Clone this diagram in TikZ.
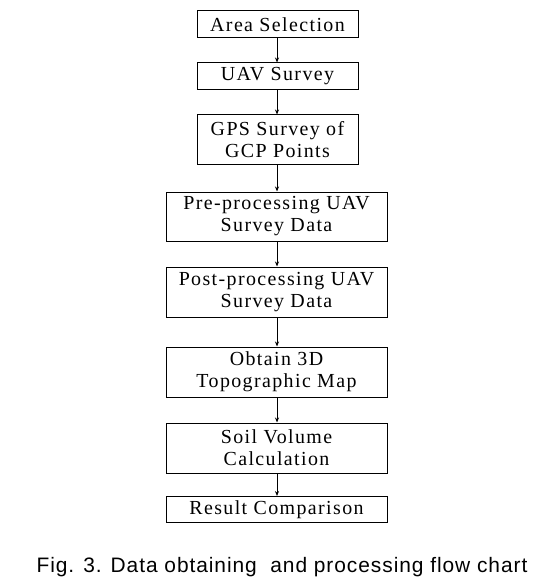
\documentclass[tikz,border=0pt]{standalone}
\usepackage{fontspec}
\setmainfont[LetterSpace=7]{Liberation Serif}
\newfontfamily\boxfont[LetterSpace=7]{Liberation Serif}
\newfontfamily\capfont[LetterSpace=4.5]{Liberation Sans}
\usetikzlibrary{arrows.meta}
\begin{document}
\begin{tikzpicture}[x=1bp,y=-1bp,
  flowbox/.style={draw=black,line width=1bp,fill=white,inner sep=0pt,align=center,
    font=\boxfont\fontsize{20}{22}\selectfont,minimum height=#1},
  flowbox/.default=27bp,
  narrowbox/.style={flowbox=#1,minimum width=161bp},
  narrowbox/.default=27bp,
  widebox/.style={flowbox=#1,minimum width=221bp},
  widebox/.default=50bp,
  flowarrow/.style={draw=black,line width=0.8bp,-{Stealth[length=5bp,width=4bp]}}]
\useasboundingbox (0,0) rectangle (558,580);
\node[narrowbox] (a) at (277.5,24.5) {Area Selection};
\node[narrowbox] (b) at (277.5,76.5) {UAV Survey};
\node[narrowbox=49bp] (c) at (277.5,139.5) {GPS Survey of\\GCP Points};
\node[widebox=49bp] (d) at (276.5,216.5) {Pre-processing UAV\\Survey Data};
\node[widebox] (e) at (276.5,292) {Post-processing UAV\\Survey Data};
\node[widebox] (f) at (276.5,372) {Obtain 3D\\Topographic Map};
\node[widebox] (g) at (276.5,448) {Soil Volume\\Calculation};
\node[widebox=26bp] (h) at (276.5,509.5) {Result Comparison};
\foreach \s/\t in {a/b,b/c,c/d,d/e,e/f,f/g,g/h}
  \draw[flowarrow] (\s.south -| 277,0) -- (\t.north -| 277,0);
\node[anchor=base,font=\capfont\fontsize{21}{22}\selectfont,inner sep=0pt] (cap) at (282,572) {Fig. 3. Data obtaining\ \ and processing flow chart};
\end{tikzpicture}
\end{document}
